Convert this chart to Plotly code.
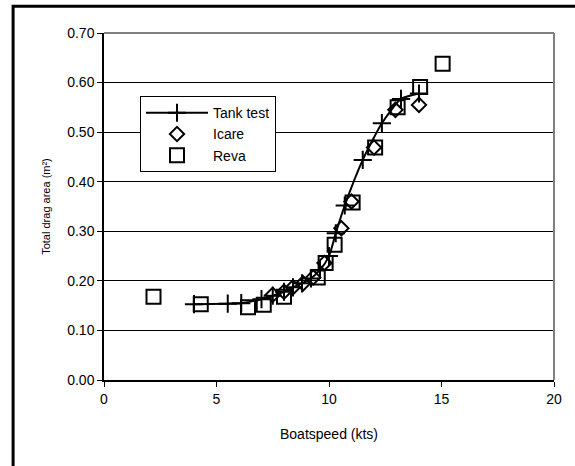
import plotly.graph_objects as go

# Tank test (line with + markers)
tank_x = [4.0, 5.5, 6.1, 7.0, 7.5, 8.0, 8.4, 8.8, 9.2, 9.6, 10.0, 10.3, 10.7, 11.5, 12.35, 13.2, 14.0]
tank_y = [0.153, 0.154, 0.155, 0.163, 0.170, 0.178, 0.187, 0.195, 0.205, 0.222, 0.250, 0.296, 0.352, 0.444, 0.518, 0.567, 0.578]

# Icare (diamonds)
icare_x = [7.5, 8.0, 8.4, 8.85, 9.3, 9.8, 10.55, 11.0, 12.0, 12.95, 14.0]
icare_y = [0.172, 0.178, 0.187, 0.195, 0.207, 0.236, 0.306, 0.360, 0.469, 0.545, 0.555]

# Reva (squares)
reva_x = [2.2, 4.3, 6.4, 7.1, 8.0, 9.5, 9.85, 10.25, 11.05, 12.05, 13.05, 14.05, 15.05]
reva_y = [0.168, 0.153, 0.147, 0.152, 0.168, 0.207, 0.236, 0.273, 0.358, 0.469, 0.550, 0.591, 0.638]

FONT = "Arial, Liberation Sans, sans-serif"

fig = go.Figure()
fig.add_trace(go.Scatter(
    x=tank_x, y=tank_y, name="Tank test", mode="lines+markers",
    line=dict(color="black", width=2, shape="spline", smoothing=0.6),
    marker=dict(symbol="cross-thin", size=13, color="black",
                line=dict(color="black", width=2)),
))
fig.add_trace(go.Scatter(
    x=icare_x, y=icare_y, name="Icare", mode="markers",
    marker=dict(symbol="diamond-open", size=11, color="black",
                line=dict(color="black", width=2)),
))
fig.add_trace(go.Scatter(
    x=reva_x, y=reva_y, name="Reva", mode="markers",
    marker=dict(symbol="square-open", size=14, color="black",
                line=dict(color="black", width=2)),
))

# outer frame (partially visible: left and top edges)
fig.add_shape(type="rect", xref="paper", yref="paper",
              x0=-0.202, x1=1.07, y0=-0.3, y1=1.077,
              line=dict(color="black", width=3), layer="below")
# grey border top/right of plot area
fig.add_shape(type="line", xref="paper", yref="paper", x0=0, x1=1, y0=1, y1=1,
              line=dict(color="#808080", width=2))
fig.add_shape(type="line", xref="paper", yref="paper", x0=1, x1=1, y0=0, y1=1,
              line=dict(color="#808080", width=2))

fig.update_layout(
    width=575, height=466,
    margin=dict(l=104, r=21, t=33, b=86),
    paper_bgcolor="white", plot_bgcolor="white",
    font=dict(family=FONT, size=13, color="black"),
    showlegend=True,
    legend=dict(x=0.08, y=0.818, xanchor="left", yanchor="top",
                bordercolor="black", borderwidth=1, bgcolor="white",
                font=dict(family=FONT, size=14), tracegroupgap=0,
                itemwidth=62),
    xaxis=dict(range=[0, 20], tickvals=[0, 5, 10, 15, 20],
               showgrid=False, zeroline=False,
               showline=True, linecolor="black", linewidth=1.5,
               ticks="outside", ticklen=5, tickcolor="black",
               tickfont=dict(family=FONT, size=14),
               title=dict(text="Boatspeed (kts)", font=dict(family=FONT, size=14), standoff=24)),
    yaxis=dict(range=[0, 0.7], tickvals=[0, 0.1, 0.2, 0.3, 0.4, 0.5, 0.6, 0.7],
               tickformat=".2f",
               showgrid=True, gridcolor="black", gridwidth=1,
               zeroline=False,
               showline=True, linecolor="black", linewidth=1.5,
               ticks="outside", ticklen=5, tickcolor="black",
               tickfont=dict(family=FONT, size=14),
               title=dict(text="Total drag area (m²)", font=dict(family=FONT, size=11), standoff=14)),
)

fig.write_html("out.html")
